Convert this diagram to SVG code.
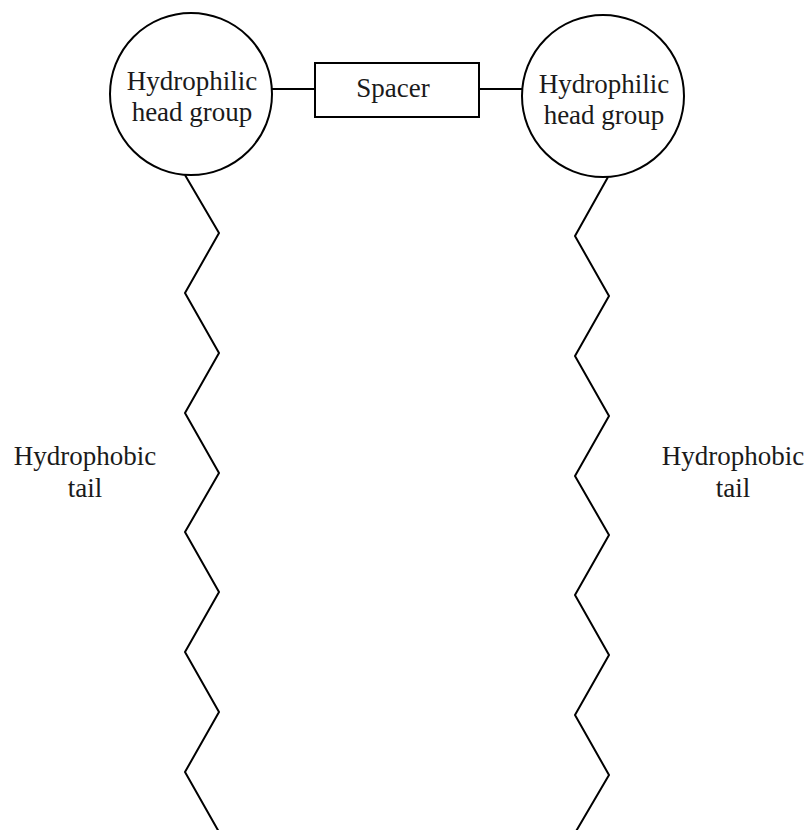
<svg xmlns="http://www.w3.org/2000/svg" width="806" height="830" viewBox="0 0 806 830">
<style>
.s{fill:none;stroke:#000;stroke-width:2;stroke-linejoin:miter}
.n{fill:#fff;stroke:#000;stroke-width:2}
text{font-family:"Liberation Serif","Times New Roman",serif;font-size:27px;fill:#1a1a1a;text-anchor:middle}
</style>
<rect width="806" height="830" fill="#fff"/>
<g id="connectors">
<line class="s" x1="272" y1="89" x2="315" y2="89"/>
<line class="s" x1="479" y1="89" x2="523" y2="89"/>
<polyline id="tail-left" class="s" points="185,175 219,233 185,293 219,353 185,413 219,473 185,532 219,592 185,652 219,712 185,772 219,832"/>
<polyline id="tail-right" class="s" points="608,177 575,236 609,296 575,356 609,416 575,476 609,535 575,595 609,655 575,715 609,775 575,833"/>
</g>
<g id="head-left">
<circle class="n" cx="191" cy="94" r="81"/>
<text x="192" y="90">Hydrophilic</text>
<text x="192" y="121">head group</text>
</g>
<g id="spacer">
<rect class="n" x="315" y="63" width="164" height="54"/>
<text x="393" y="97">Spacer</text>
</g>
<g id="head-right">
<circle class="n" cx="603" cy="96" r="81"/>
<text x="604" y="93">Hydrophilic</text>
<text x="604" y="124">head group</text>
</g>
<g id="label-left">
<text x="85" y="465">Hydrophobic</text>
<text x="85" y="497">tail</text>
</g>
<g id="label-right">
<text x="733" y="465">Hydrophobic</text>
<text x="733" y="497">tail</text>
</g>
</svg>
